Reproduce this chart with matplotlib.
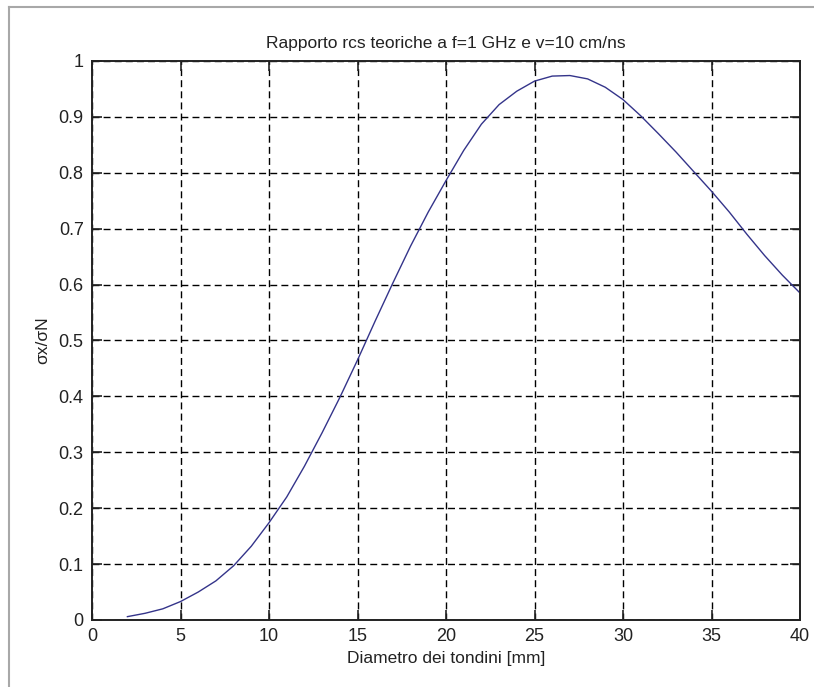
import matplotlib
matplotlib.use("Agg")
import matplotlib.pyplot as plt
from matplotlib.lines import Line2D

# Values
diametro = [2, 3, 4, 5, 6, 7, 8, 9, 10, 11, 12, 13, 14, 15, 16, 17, 18, 19, 20,
            21, 22, 23, 24, 25, 26, 27, 28, 29, 30, 31, 32, 33, 34, 35, 36, 37,
            38, 39, 40]
rapporto = [0.006, 0.012, 0.02, 0.033, 0.05, 0.07, 0.097, 0.132, 0.174, 0.22,
            0.275, 0.335, 0.398, 0.465, 0.535, 0.603, 0.669, 0.73, 0.786, 0.84,
            0.887, 0.922, 0.946, 0.964, 0.973, 0.974, 0.968, 0.953, 0.931,
            0.902, 0.87, 0.837, 0.802, 0.767, 0.73, 0.69, 0.652, 0.617, 0.585]

x_ticks = [0, 5, 10, 15, 20, 25, 30, 35, 40]
y_ticks = [0, 0.1, 0.2, 0.3, 0.4, 0.5, 0.6, 0.7, 0.8, 0.9, 1]
y_labels = ["0", "0.1", "0.2", "0.3", "0.4", "0.5", "0.6", "0.7", "0.8", "0.9", "1"]

plt.rcParams['font.family'] = ['Liberation Sans', 'DejaVu Sans']

fig = plt.figure(figsize=(8.14, 6.87), dpi=100)
ax = fig.add_axes([92 / 814, 1 - 620 / 687, (800 - 92) / 814, (620 - 61) / 687])

ax.plot(diametro, rapporto, color='#34348a', linewidth=1.0)

ax.set_xlim(0, 40)
ax.set_ylim(0, 1)
ax.set_xticks(x_ticks)
ax.set_xticklabels([str(t) for t in x_ticks])
ax.set_yticks(y_ticks)
ax.set_yticklabels(y_labels)

# MATLAB style grid and ticks
ax.grid(True, color='black', linestyle=(0, (5, 3)), linewidth=1.0)
ax.tick_params(direction='in', length=7, width=1.2, top=True, right=True,
               labelsize=13, colors='#222222', pad=6)
for side in ax.spines.values():
    side.set_linewidth(1.4)
    side.set_color('#222222')

ax.set_title("Rapporto rcs teoriche a f=1 GHz e v=10 cm/ns", fontsize=12.5,
             pad=9, color='#222222')
ax.set_xlabel("Diametro dei tondini [mm]", fontsize=12.5, labelpad=4, color='#222222')
ax.set_ylabel("σx/σN", fontsize=12.5, labelpad=6, color='#222222')

# screenshot border on the left and top
fig.add_artist(Line2D([9 / 814, 9 / 814], [0, 1 - 7 / 687], color='#a8a8a8', linewidth=1.5))
fig.add_artist(Line2D([9 / 814, 1], [1 - 7 / 687, 1 - 7 / 687], color='#a8a8a8', linewidth=1.5))

fig.savefig("out.png", dpi=100)
